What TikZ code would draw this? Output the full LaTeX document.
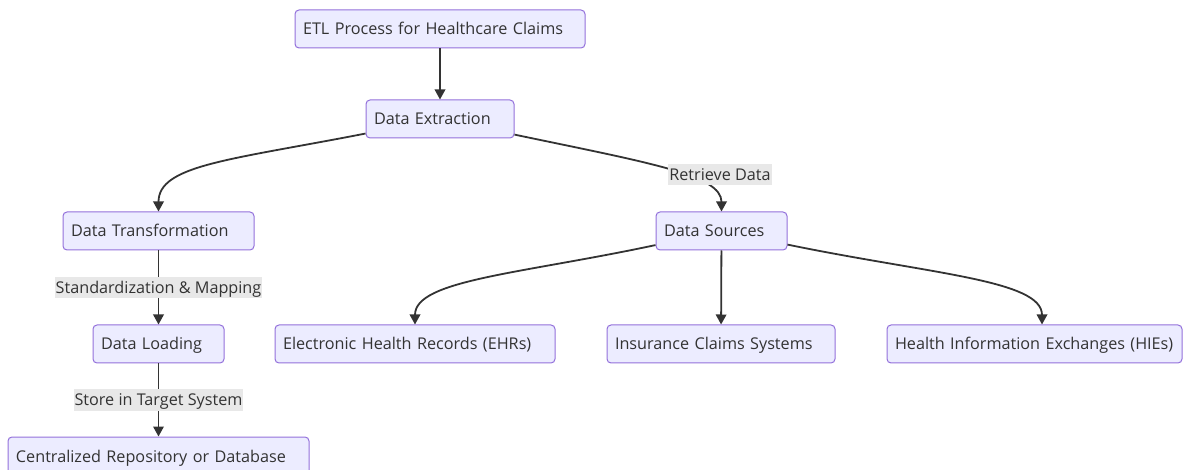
\documentclass[tikz,border=0pt]{standalone}
\usepackage{fontspec}
\setmainfont{Open Sans}
\usetikzlibrary{arrows.meta}

\definecolor{boxfill}{HTML}{ECECFF}
\definecolor{boxline}{HTML}{9370DB}
\definecolor{edgecol}{HTML}{333333}
\definecolor{lblfill}{HTML}{E8E8E8}

\tikzset{
  box/.style={draw=boxline, fill=boxfill, line width=1pt, rounded corners=4pt,
    minimum height=38pt, inner xsep=8pt, inner ysep=0pt, align=left,
    text height=12pt, text depth=0pt,
    text=edgecol, font=\fontsize{16.2}{19}\selectfont},
  flow/.style={draw=edgecol, line width=1.8pt, -{Triangle[length=10pt,width=10.5pt]}},
  lbl/.style={fill=lblfill, inner xsep=1pt, inner ysep=2pt,
    text height=14.5pt, text depth=2.5pt, text=edgecol,
    font=\fontsize{16.2}{19}\selectfont},
}

\begin{document}
\begin{tikzpicture}[x=1pt,y=-1pt]
  \useasboundingbox (0,0) rectangle (1184,470);

  % pipeline stages
  \node[box, text width=274pt] (etl) at (440,29) {ETL Process for Healthcare Claims};
  \node[box, text width=132pt] (ext) at (440,119) {Data Extraction};
  \node[box, text width=175pt] (trans) at (158.5,231) {Data Transformation};
  \node[box, text width=115pt] (load) at (158.5,344) {Data Loading};
  \node[box, text width=285pt] (repo) at (158.5,456) {Centralized Repository or Database};

  % where the data comes from
  \node[box, text width=115pt] (src) at (721.5,231) {Data Sources};
  \node[box, text width=264pt] (ehr) at (415,344) {Electronic Health Records (EHRs)};
  \node[box, text width=212pt] (ins) at (721,344) {Insurance Claims Systems};
  \node[box, text width=279pt] (hie) at (1034.5,344) {Health Information Exchanges (HIEs)};

  \draw[flow] (etl) -- (ext);
  \draw[flow] (ext) .. controls (230,160) and (158.5,165) .. (trans);
  \draw[flow] (ext) .. controls (650,163) and (721.5,175) .. (src);
  \draw[flow] (trans) -- node[lbl] {Standardization \& Mapping} (load);
  \draw[flow] (load) -- node[lbl] {Store in Target System} (repo);

  \draw[flow] (src) .. controls (520,274) and (415,280) .. (ehr);
  \draw[flow] (src) -- (ins);
  \draw[flow] (src) .. controls (930,274) and (1042,280) .. ([xshift=7.5pt]hie.north);

  \node[lbl] (retr) at (720,175) {Retrieve Data};
\end{tikzpicture}
\end{document}
